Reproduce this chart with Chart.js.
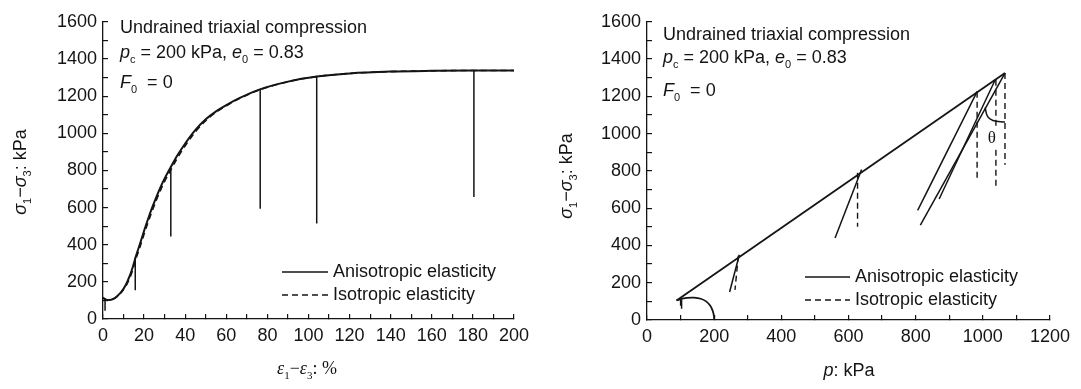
<!DOCTYPE html>
<html lang="en">
<head>
<meta charset="UTF-8" />
<title>Undrained triaxial compression</title>
<script src="https://cdn.jsdelivr.net/npm/chart.js"></script>
<style>
  body, html { margin: 0; padding: 0; background: #fff; }
  #container { display: flex; width: 1081px; height: 389px; }
  canvas { display: block; }
</style>
</head>
<body>
<div id="container">
  <canvas id="strainChart" width="540" height="389"></canvas>
  <canvas id="pathChart" width="541" height="389"></canvas>
</div>
<script>
// ---- left panel: deviator stress vs. shear strain ----
const strain    = [0, 1, 3, 5, 7, 9, 11, 13, 14.5, 16, 18, 20, 22, 24, 26, 28, 30, 33, 36, 40, 45, 50, 55, 60, 66.6, 76, 90, 104, 120, 140, 160, 180, 200];
const devAniso  = [115, 106, 102, 108, 124, 148, 182, 232, 280, 337, 405, 475, 541, 602, 658, 710, 757, 818, 877, 945, 1018, 1075, 1118, 1152, 1190, 1235, 1278, 1305, 1322, 1332, 1336, 1338, 1338];
const devIso    = [115, 106, 102, 107, 122, 144, 175, 220, 265, 322, 388, 457, 523, 584, 641, 694, 741, 803, 863, 933, 1008, 1068, 1113, 1148, 1188, 1233, 1277, 1305, 1322, 1332, 1336, 1338, 1338];
// unloading branches (vertical in strain)
const unloadStrain = [1, 15.7, 33, 76.5, 104, 180.5];
const unloadTop    = [112, 330, 815, 1237, 1305, 1338];
const unloadBottom = [45, 155, 444, 593, 514, 657];

// ---- right panel: stress path q vs p ----
const arcP = [200, 199, 195, 188, 176, 160, 140, 120, 103, 88];
const arcQ = [0, 25, 52, 78, 100, 114, 120, 119, 113, 105];
const cslP = [88, 1066];
const cslQ = [105, 1325];
// anisotropic unloading (solid)
const aniTopP = [103, 275, 639, 983, 1037, 1066];
const aniTopQ = [109, 350, 807, 1225, 1289, 1325];
const aniEndP = [103, 246, 560, 806, 870, 814];
const aniEndQ = [61, 150, 440, 588, 649, 509];
// isotropic unloading (dashed)
const isoTopP = [100, 272, 627, 983, 1039, 1066];
const isoTopQ = [108, 345, 790, 1225, 1289, 1325];
const isoEndP = [100, 262, 627, 983, 1039, 1066];
const isoEndQ = [60, 162, 500, 746, 702, 833];
// theta arc
const thetaP = [1007, 1014, 1030, 1066];
const thetaQ = [1140, 1092, 1070, 1062];

const INK = '#141414';
const SANS = '"Liberation Sans", Arial, sans-serif';
const SERIF = '"Liberation Serif", "Times New Roman", serif';
const DASH = [6, 4];

function pts(xs, ys) { return xs.map((x, i) => ({ x: x, y: ys[i] })); }

function segments(x1, y1, x2, y2, style) {
  return x1.map((x, i) => Object.assign({
    data: [{ x: x, y: y1[i] }, { x: x2[i], y: y2[i] }],
    showLine: true, borderColor: INK, borderWidth: 1.5, pointRadius: 0
  }, style || {}));
}

function drawRich(ctx, runs, x, y, size, family, measureOnly) {
  let cx = x;
  runs.forEach(r => {
    const s = r.sub ? Math.round(size * 0.62) : size;
    ctx.font = (r.italic ? 'italic ' : '') + s + 'px ' + (r.family || family);
    if (!measureOnly) ctx.fillText(r.t, cx, y + (r.sub ? size * 0.3 : 0));
    cx += ctx.measureText(r.t).width;
  });
  return cx - x;
}

// annotation, axis titles and legend drawn on top
function decorPlugin(cfg) {
  return {
    id: 'decor',
    afterDraw(chart) {
      const ctx = chart.ctx;
      ctx.save();
      ctx.fillStyle = INK;
      ctx.textBaseline = 'alphabetic';
      ctx.textAlign = 'left';
      const tx = cfg.textX;
      drawRich(ctx, [{ t: 'Undrained triaxial compression' }], tx, cfg.textY[0], 18, SANS);
      drawRich(ctx, [{ t: 'p', italic: true }, { t: 'c', sub: true }, { t: ' = 200 kPa, ' },
                     { t: 'e', italic: true }, { t: '0', sub: true }, { t: ' = 0.83' }], tx, cfg.textY[1], 18, SANS);
      drawRich(ctx, [{ t: 'F', italic: true }, { t: '0', sub: true }, { t: '  = 0' }], tx, cfg.textY[2], 18, SANS);

      // y title (rotated)
      const yRuns = [{ t: 'σ', italic: true }, { t: '1', sub: true }, { t: '−' }, { t: 'σ', italic: true },
                     { t: '3', sub: true }, { t: ': kPa' }];
      const w = drawRich(ctx, yRuns, 0, 0, 18, SANS, true);
      ctx.save();
      ctx.translate(cfg.yTitle[0] + 6, cfg.yTitle[1]);
      ctx.rotate(-Math.PI / 2);
      drawRich(ctx, yRuns, -w / 2, 0, 18, SANS);
      ctx.restore();

      // x title
      const xw = drawRich(ctx, cfg.xRuns, 0, 0, 18, cfg.xFamily, true);
      drawRich(ctx, cfg.xRuns, cfg.xTitle[0] - xw / 2, cfg.xTitle[1], 18, cfg.xFamily);

      // legend
      const L = cfg.legend;
      ctx.strokeStyle = INK;
      ctx.lineWidth = 1.5;
      ctx.beginPath(); ctx.moveTo(L.x0, L.y[0]); ctx.lineTo(L.x1, L.y[0]); ctx.stroke();
      ctx.setLineDash(DASH);
      ctx.beginPath(); ctx.moveTo(L.x0, L.y[1]); ctx.lineTo(L.x1, L.y[1]); ctx.stroke();
      ctx.setLineDash([]);
      ctx.font = '18px ' + SANS;
      ctx.textBaseline = 'middle';
      ctx.fillText('Anisotropic elasticity', L.x1 + 5, L.y[0]);
      ctx.fillText('Isotropic elasticity', L.x1 + 5, L.y[1]);

      if (cfg.theta) {
        const sx = chart.scales.x, sy = chart.scales.y;
        const px = sx.getPixelForValue(cfg.theta[0]), py = sy.getPixelForValue(cfg.theta[1]);
        ctx.font = '17px ' + SERIF;
        ctx.textAlign = 'center';
        const tw = ctx.measureText('θ').width;
        ctx.fillStyle = '#fff';
        ctx.fillRect(px - tw / 2 - 2, py - 11, tw + 4, 22);
        ctx.fillStyle = INK;
        ctx.fillText('θ', px, py);
      }
      ctx.restore();
    }
  };
}

function axisOptions(xMax, xStep, xMajor, yWidth, xHeight) {
  const tickFont = { family: SANS, size: 18 };
  return {
    responsive: false,
    animation: false,
    events: [],
    layout: { padding: { left: 0, right: 0, top: 16, bottom: 0 } },
    elements: { point: { radius: 0 }, line: { borderCapStyle: 'butt' } },
    plugins: { legend: { display: false }, tooltip: { enabled: false } },
    scales: {
      x: {
        type: 'linear', min: 0, max: xMax,
        afterFit: s => { s.height = xHeight; },
        border: { display: true, color: INK, width: 1.3 },
        grid: { drawOnChartArea: false, drawTicks: true, tickLength: -5, color: INK, lineWidth: 1.2 },
        ticks: {
          stepSize: xStep, autoSkip: false, maxRotation: 0, padding: 11,
          color: INK, font: tickFont,
          callback: v => (v % xMajor === 0 ? v : '')
        }
      },
      y: {
        type: 'linear', min: 0, max: 1600,
        afterFit: s => { s.width = yWidth; },
        border: { display: true, color: INK, width: 1.3 },
        grid: { drawOnChartArea: false, drawTicks: true, tickLength: -5, color: INK, lineWidth: 1.2 },
        ticks: {
          stepSize: 100, autoSkip: false, padding: 11,
          color: INK, font: tickFont,
          callback: v => (v % 200 === 0 ? v : '')
        }
      }
    }
  };
}

// ---- left chart ----
const leftOpts = axisOptions(200, 10, 20, 103, 70);
leftOpts.layout.padding.right = 25;
new Chart(document.getElementById('strainChart'), {
  type: 'scatter',
  data: {
    datasets: [
      { label: 'Anisotropic elasticity', data: pts(strain, devAniso), showLine: true,
        borderColor: INK, borderWidth: 2, cubicInterpolationMode: 'monotone' },
      { label: 'Isotropic elasticity', data: pts(strain, devIso), showLine: true,
        borderColor: INK, borderWidth: 1.6, borderDash: DASH, cubicInterpolationMode: 'monotone' }
    ].concat(segments(unloadStrain, unloadTop, unloadStrain, unloadBottom))
  },
  options: leftOpts,
  plugins: [decorPlugin({
    textX: 120, textY: [33, 58, 88],
    yTitle: [20, 172],
    xTitle: [307, 374], xFamily: SERIF,
    xRuns: [{ t: 'ε', italic: true }, { t: '1', sub: true }, { t: '−' }, { t: 'ε', italic: true },
            { t: '3', sub: true }, { t: ': %' }],
    legend: { x0: 282, x1: 328, y: [272, 295] }
  })]
});

// ---- right chart ----
const rightOpts = axisOptions(1200, 100, 200, 107, 69);
rightOpts.layout.padding.right = 27;
new Chart(document.getElementById('pathChart'), {
  type: 'scatter',
  data: {
    datasets: [
      { label: 'Anisotropic elasticity', data: pts(cslP, cslQ), showLine: true, borderColor: INK, borderWidth: 1.8 },
      { data: pts(arcP, arcQ), showLine: true, borderColor: INK, borderWidth: 1.8, tension: 0.4 },
      { data: pts(thetaP, thetaQ), showLine: true, borderColor: INK, borderWidth: 1.5, tension: 0.4 }
    ]
      .concat(segments(aniTopP, aniTopQ, aniEndP, aniEndQ))
      .concat(segments(isoTopP, isoTopQ, isoEndP, isoEndQ, { borderDash: DASH, borderWidth: 1.4 }))
  },
  options: rightOpts,
  plugins: [decorPlugin({
    textX: 123, textY: [40, 63, 96],
    yTitle: [26, 176],
    xTitle: [309, 376], xFamily: SANS,
    xRuns: [{ t: 'p', italic: true }, { t: ': kPa' }],
    legend: { x0: 265, x1: 310, y: [277, 300] },
    theta: [1027, 975]
  })]
});
</script>
</body>
</html>
